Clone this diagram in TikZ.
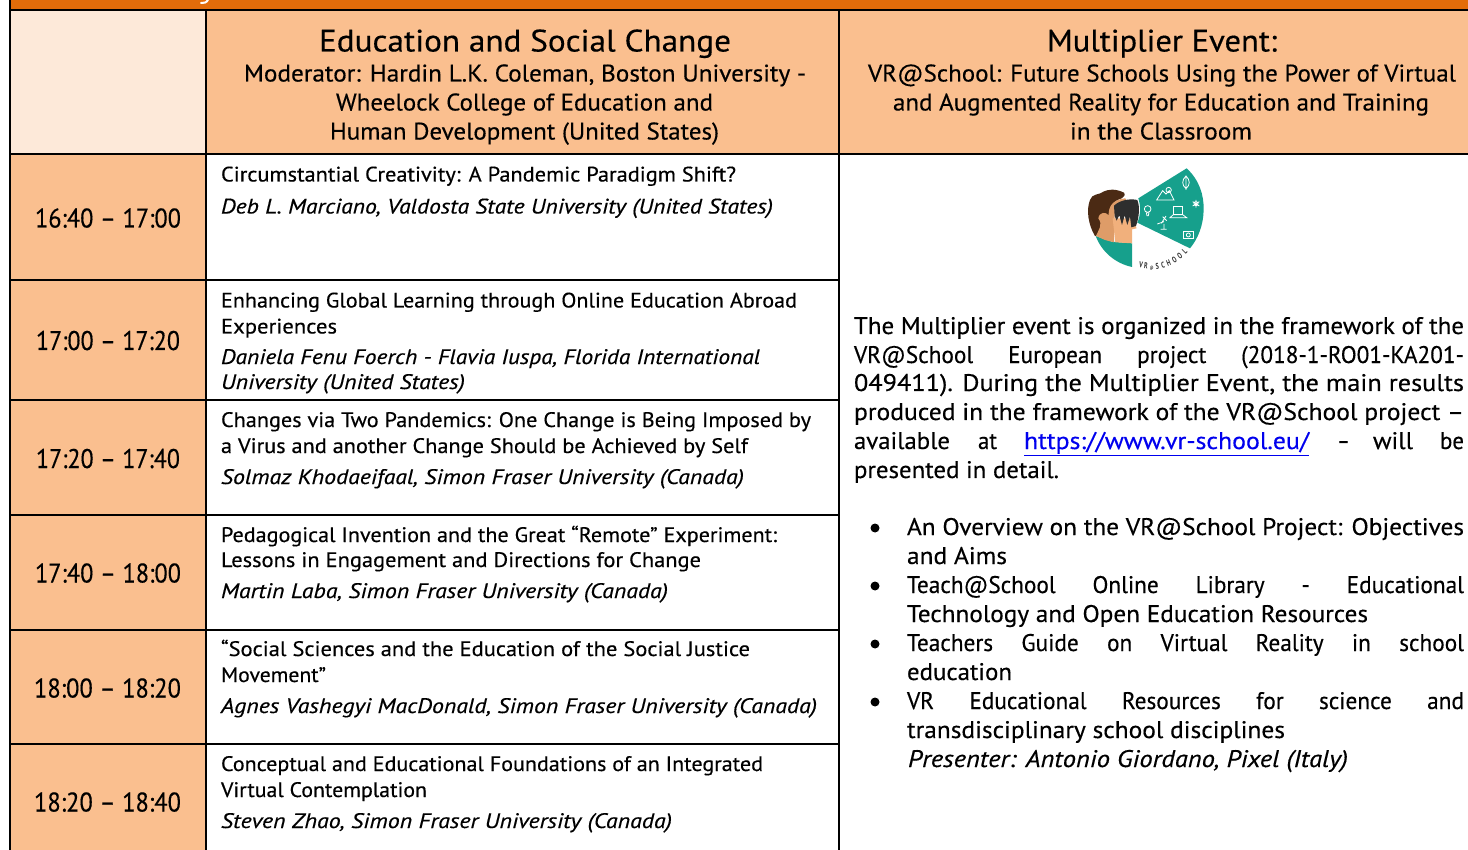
\documentclass[tikz,border=0pt]{standalone}
\usepackage{fontspec}
\setmainfont{PT Sans}[UprightFeatures={FakeBold=0.35},ItalicFeatures={FakeBold=0.35}]
\definecolor{barorange}{HTML}{E36C0A}
\definecolor{headpeach}{HTML}{FABF8F}
\definecolor{lightpeach}{HTML}{FDE9D9}
\definecolor{logoteal}{HTML}{16A08C}
\definecolor{linkblue}{HTML}{0000EE}
\definecolor{hairbrown}{HTML}{4B2A14}
\definecolor{skinmid}{HTML}{DE9C68}
\definecolor{skinlight}{HTML}{F1B07C}
\newcounter{tn}
% fit: x, baseline, end x, size, text
\newcommand{\fitline}[5]{\stepcounter{tn}\node[txt,name=t\thetn] at (#1,#2) {\fontsize{#4}{#4}\selectfont\resizebox{\dimexpr#3pt-#1pt\relax}{\height}{#5}};}
% justified: x, baseline, end x, size, text
\newcommand{\justline}[5]{\stepcounter{tn}\node[txt,name=t\thetn] at (#1,#2) {\fontsize{#4}{#4}\selectfont\scalebox{.97}[1]{\makebox[\dimexpr(#3pt-#1pt)*100/97\relax][s]{#5}}};}
\newcommand{\logoletter}[4]{\stepcounter{tn}\node[name=t\thetn,inner sep=0pt,rotate=#3,text=black!80,font=\fontsize{7}{7}\selectfont\bfseries] at (#1,#2) {\scalebox{.85}[1.2]{#4}};}
\tikzset{
  txt/.style={anchor=base west,inner sep=0pt,outer sep=0pt},
  grid/.style={line width=2pt,black},
  icon/.style={draw=white,line width=.8pt,fill=none},
  bul/.style={circle,fill=black,inner sep=0pt,minimum size=9pt},
}
\begin{document}
\begin{tikzpicture}[x=1pt,y=-1pt]
\useasboundingbox (0,0) rectangle (1468,850);
\fill[white] (0,0) rectangle (1468,850);
% fills
\fill[barorange] (10,0) rectangle (1468,10);
\draw[white,line width=2pt,line cap=round] (208,0) .. controls (206,3) and (204,3) .. (201,3);
\fill[lightpeach] (10,10) rectangle (206,154);
\fill[headpeach] (206,10) rectangle (1468,154);
\fill[headpeach] (10,154) rectangle (206,850);
% grid
\draw[grid] (10,0) -- (10,850);
\draw[grid] (206,10) -- (206,850);
\draw[grid] (839,10) -- (839,850);
\draw[grid] (10,10) -- (1468,10);
\draw[grid] (10,154) -- (1468,154);
\draw[grid] (206,280) -- (839,280);
\draw[grid] (10,280) -- (206,280);
\draw[grid] (10,400) -- (839,400);
\draw[grid] (10,515) -- (839,515);
\draw[grid] (10,630) -- (839,630);
\draw[grid] (10,744) -- (839,744);
% headers
\fitline{319}{51.5}{731}{31}{Education and Social Change}
\fitline{244}{81.5}{806}{24}{Moderator: Hardin L.K. Coleman, Boston University -}
\fitline{336}{110.5}{713}{24}{Wheelock College of Education and}
\fitline{330}{139.5}{719}{24}{Human Development (United States)}
\fitline{1047}{51.5}{1277}{31}{Multiplier Event:}
\fitline{868}{81.5}{1456}{24}{VR@School: Future Schools Using the Power of Virtual}
\fitline{893}{110.5}{1429}{24}{and Augmented Reality for Education and Training}
\fitline{1070}{139.5}{1252}{24}{in the Classroom}
% times
\fitline{35}{227.5}{181}{27}{16:40 -- 17:00}
\fitline{36}{350}{180}{27}{17:00 -- 17:20}
\fitline{36}{468}{180}{27}{17:20 -- 17:40}
\fitline{35}{582.5}{181}{27}{17:40 -- 18:00}
\fitline{34}{697.5}{181}{27}{18:00 -- 18:20}
\fitline{34}{811.5}{181}{27}{18:20 -- 18:40}
% left column
\fitline{221}{181.5}{736}{21}{Circumstantial Creativity: A Pandemic Paradigm Shift?}
\fitline{221}{213.5}{773}{21}{\itshape Deb L. Marciano, Valdosta State University (United States)}
\fitline{221}{307.5}{797}{21}{Enhancing Global Learning through Online Education Abroad}
\fitline{221}{333.5}{337}{21}{Experiences}
\fitline{221}{364}{760}{21}{\itshape Daniela Fenu Foerch - Flavia Iuspa, Florida International}
\fitline{221}{389}{465}{21}{\itshape University (United States)}
\fitline{221}{427}{811}{21}{Changes via Two Pandemics: One Change is Being Imposed by}
\fitline{221}{453}{748}{21}{a Virus and another Change Should be Achieved by Self}
\fitline{221}{484}{744}{21}{\itshape Solmaz Khodaeifaal, Simon Fraser University (Canada)}
\fitline{221}{542}{777}{21}{Pedagogical Invention and the Great “Remote” Experiment:}
\fitline{221}{567}{701}{21}{Lessons in Engagement and Directions for Change}
\fitline{221}{598}{668}{21}{\itshape Martin Laba, Simon Fraser University (Canada)}
\fitline{221}{656}{750}{21}{“Social Sciences and the Education of the Social Justice}
\fitline{221}{682}{326}{21}{Movement”}
\fitline{221}{713}{817}{21}{\itshape Agnes Vashegyi MacDonald, Simon Fraser University (Canada)}
\fitline{221}{771}{763}{21}{Conceptual and Educational Foundations of an Integrated}
\fitline{221}{797}{427}{21}{Virtual Contemplation}
\fitline{221}{828}{672}{21}{\itshape Steven Zhao, Simon Fraser University (Canada)}
% right paragraph
\fitline{854}{334}{1464}{24}{The Multiplier event is organized in the framework of the}
\justline{854}{363}{1464}{24}{VR@School European project (2018-1-RO01-KA201-}
\fitline{854}{391}{1464}{24}{049411). During the Multiplier Event, the main results}
\fitline{854}{420}{1464}{24}{produced in the framework of the VR@School project --}
\fitline{854}{449}{950}{24}{available}
\fitline{978}{449}{997}{24}{at}
\fitline{1024}{449}{1309}{24}{\color{linkblue}\underline{https://www.vr-school.eu/}}
\fitline{1337}{449}{1350}{24}{--}
\fitline{1373}{449}{1413}{24}{will}
\fitline{1440}{449}{1464}{24}{be}
\fitline{854}{478}{1059}{24}{presented in detail.}
% bullets
\node[bul] (b1) at (875,528) {};
\node[bul] (b2) at (875,586) {};
\node[bul] (b3) at (875,644) {};
\node[bul] (b4) at (875,702) {};
\fitline{907}{535}{1464}{24}{An Overview on the VR@School Project: Objectives}
\fitline{907}{564}{1007}{24}{and Aims}
\justline{907}{593}{1464}{24}{Teach@School Online Library - Educational}
\fitline{907}{622}{1368}{24}{Technology and Open Education Resources}
\justline{907}{651}{1464}{24}{Teachers Guide on Virtual Reality in school}
\fitline{907}{680}{1012}{24}{education}
\justline{907}{709}{1464}{24}{VR Educational Resources for science and}
\fitline{907}{738}{1285}{24}{transdisciplinary school disciplines}
\fitline{908}{767}{1348}{24}{\itshape Presenter: Antonio Giordano, Pixel (Italy)}
% logo
\begin{scope}[shift={(1040,150)},x=.3333pt,y=-.3333pt]
  \fill[logoteal] (295,145) -- (440,55) .. controls (478,90) and (492,135) .. (491,180) .. controls (490,225) and (475,265) .. (450,295) -- (292,218) .. controls (302,195) and (303,170) .. (295,145) -- cycle;
  \fill[logoteal] (167,258) -- (215,275) -- (276,280) -- (276,351) .. controls (225,340) and (185,305) .. (167,258) -- cycle;
  % hair
  \fill[hairbrown] (165,258) .. controls (145,225) and (138,180) .. (150,150) .. controls (155,130) and (180,135) .. (190,125) .. controls (205,118) and (225,115) .. (252,128) .. controls (258,135) and (250,142) .. (245,145) .. controls (225,150) and (210,165) .. (210,190) -- (190,250) -- cycle;
  % face
  \fill[skinmid] (168,258) .. controls (175,240) and (190,225) .. (175,205) .. controls (178,185) and (198,185) .. (206,196) .. controls (205,170) and (218,148) .. (256,145) -- (262,155) -- (225,165) -- (222,277) -- (195,270) -- cycle;
  % hand
  \fill[skinlight] (218,205) -- (276,205) -- (290,235) -- (276,238) -- (276,280) -- (226,277) -- cycle;
  % headset
  \fill[black!82] (222,167) .. controls (240,150) and (270,145) .. (292,150) .. controls (300,170) and (298,200) .. (288,228) -- (274,232) -- (270,200) -- (262,225) -- (254,196) -- (246,225) -- (238,196) -- (230,212) -- (224,198) -- cycle;
  % icons
  \draw[icon] (350,150) -- (368,122) -- (378,132) -- (388,122) -- (402,150) -- cycle;
  \draw[icon] (386,120) circle (8);
  \draw[icon] (438,78) .. controls (425,90) and (425,105) .. (438,116) .. controls (451,105) and (451,90) .. (438,78) -- cycle (438,82) -- (438,120);
  \draw[icon] (400,168) rectangle (428,194);
  \draw[icon] (390,203) -- (440,203) -- (428,194) -- (400,194) -- cycle;
  \draw[icon] (323,177) circle (10);
  \draw[icon] (319,188) -- (327,188) -- (325,197) -- (321,197) -- cycle;
  \draw[icon] (368,200) -- (380,212) (362,238) -- (380,238) (372,238) -- (372,222) (352,222) -- (372,215) (378,198) -- (364,220);
  \draw[icon] (468,150) -- (468,173) (458,155) -- (478,168) (458,168) -- (478,155);
  \draw[icon] (468,161) circle (6);
  \draw[icon] (430,245) rectangle (460,265);
  \draw[icon] (445,255) circle (6);
  % letters
  \logoletter{303}{345}{-8}{V}
  \logoletter{318}{347}{-6}{R}
  \logoletter{335}{355}{-2}{\fontsize{4}{4}\selectfont @}
  \logoletter{352}{349}{8}{S}
  \logoletter{369}{345}{15}{C}
  \logoletter{386}{338}{22}{H}
  \logoletter{403}{329}{30}{O}
  \logoletter{419}{318}{36}{O}
  \logoletter{434}{304}{45}{L}
\end{scope}
\end{tikzpicture}
\end{document}
